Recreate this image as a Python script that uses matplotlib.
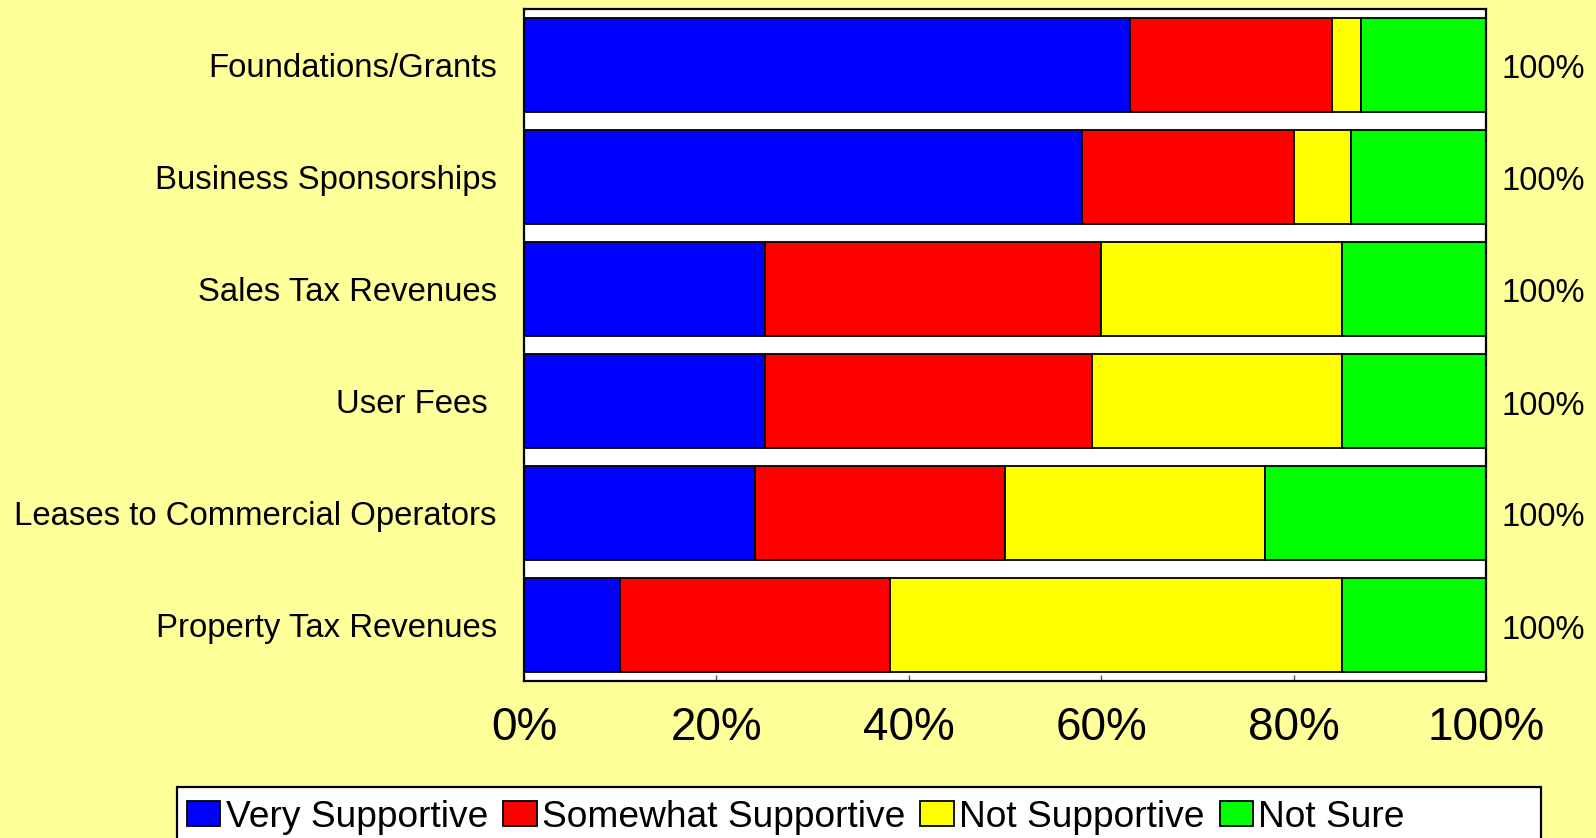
import matplotlib
matplotlib.use("Agg")
import matplotlib.pyplot as plt
from matplotlib.patches import Rectangle
import matplotlib.transforms as mtransforms
import numpy as np

categories = ["Foundations/Grants", "Business Sponsorships", "Sales Tax Revenues",
              "User Fees ", "Leases to Commercial Operators", "Property Tax Revenues"]
very_supportive = [63, 58, 25, 25, 24, 10]
somewhat_supportive = [21, 22, 35, 34, 26, 28]
not_supportive = [3, 6, 25, 26, 27, 47]
not_sure = [13, 14, 15, 15, 23, 15]
series_names = ["Very Supportive", "Somewhat Supportive", "Not Supportive", "Not Sure"]
series_colors = ["#0000FF", "#FF0000", "#FFFF00", "#00FF00"]
x_ticks = [0, 20, 40, 60, 80, 100]
x_tick_labels = ["0%", "20%", "40%", "60%", "80%", "100%"]

plt.rcParams['font.family'] = ['Liberation Sans', 'DejaVu Sans']

W, H = 1596, 838
fig = plt.figure(figsize=(W / 100, H / 100), dpi=100)
bg = "#FFFF99"
fig.patch.set_facecolor(bg)

ax_left, ax_right, ax_top, ax_bottom = 524, 1486, 9, 681
ax = fig.add_axes([ax_left / W, 1 - ax_bottom / H, (ax_right - ax_left) / W, (ax_bottom - ax_top) / H])
ax.set_facecolor("white")

series = [very_supportive, somewhat_supportive, not_supportive, not_sure]
y = np.arange(len(categories))
left = np.zeros(len(categories))
handles = []
for vals, name, col in zip(series, series_names, series_colors):
    b = ax.barh(y, vals, left=left, height=0.84, color=col, edgecolor="black",
                linewidth=1.3, label=name)
    handles.append(b)
    left = left + np.array(vals)

ax.set_xlim(0, 100)
ax.set_ylim(len(categories) - 0.5, -0.5)
ax.set_xticks(x_ticks)
ax.set_xticklabels(x_tick_labels, fontsize=33)
ax.tick_params(axis="x", direction="in", length=4, width=1, color="#555555", pad=18)
ax.set_yticks(y)
ax.set_yticklabels(categories, fontsize=23.7)
ax.tick_params(axis="y", length=0, pad=19.5)
for s in ax.spines.values():
    s.set_linewidth(1.6)
    s.set_color("black")

totals = np.sum(np.array(series), axis=0)
trans = mtransforms.blended_transform_factory(ax.transAxes, ax.transData)
for yi, t in zip(y, totals):
    ax.annotate(f"{int(round(t))}%", xy=(1, yi), xycoords=trans, xytext=(15, -5),
                textcoords="offset pixels", ha="left", va="center", fontsize=23.5)

# legend box
lx0, lx1, ly_top = 177, 1541, 787
fig.patches.append(Rectangle((lx0 / W, -0.05), (lx1 - lx0) / W, 0.05 + 1 - ly_top / H,
                             transform=fig.transFigure, facecolor="white",
                             edgecolor="black", linewidth=1.6, zorder=1))
leg = fig.legend(handles=handles, labels=series_names, loc="upper left",
                 bbox_to_anchor=(187 / W, 1 - 800 / H), ncol=4, frameon=False,
                 fontsize=26.7, handlelength=0.9, handleheight=0.66,
                 handletextpad=0.15, columnspacing=0.4, borderpad=0, borderaxespad=0)
leg.set_zorder(2)

fig.savefig("out.png", dpi=100, facecolor=bg)
